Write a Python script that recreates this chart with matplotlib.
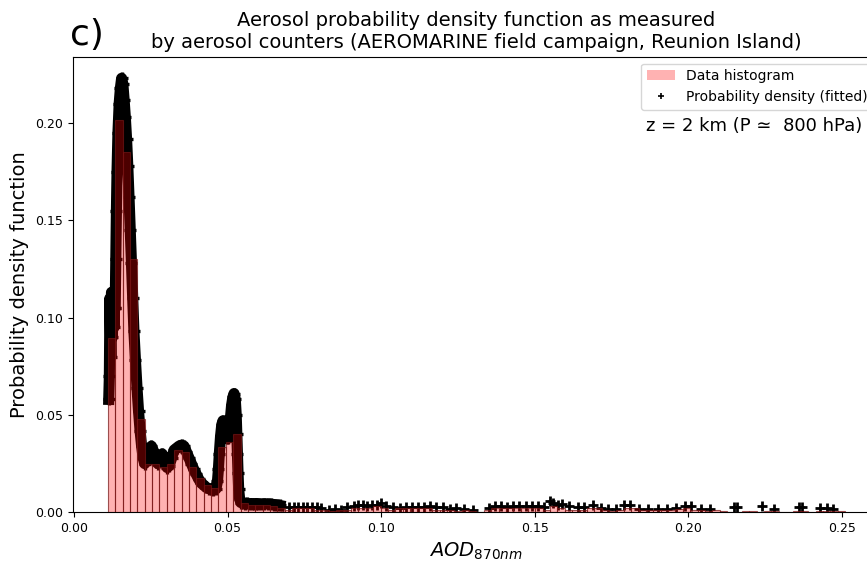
import matplotlib
matplotlib.use("Agg")
import matplotlib.pyplot as plt
from matplotlib.patches import Patch
from matplotlib.lines import Line2D

# --- histogram (bar heights sum to ~1) ---
bin_start = 0.011
bin_width = 0.0024
bar_heights = [
    0.0896, 0.2016, 0.185, 0.13, 0.048, 0.025, 0.025, 0.0234, 0.025, 0.032,
    0.031, 0.0234, 0.0176, 0.014, 0.0125, 0.0337, 0.036, 0.040, 0.005, 0.004,
    0.004, 0.004, 0.003, 0.002, 0.001, 0.002, 0.002, 0.002, 0.001, 0.001,
    0.0005, 0.001, 0.001, 0.002, 0.002, 0.002, 0.003, 0.002, 0.001, 0.002,
    0.002, 0.002, 0.002, 0.002, 0.001, 0.001, 0.001, 0.0005, 0.001, 0.0005,
    0.0, 0.001, 0.002, 0.002, 0.002, 0.002, 0.002, 0.002, 0.002, 0.001,
    0.003, 0.002, 0.001, 0.001, 0.001, 0.002, 0.002, 0.001, 0.0005, 0.001,
    0.002, 0.002, 0.001, 0.001, 0.001, 0.001, 0.001, 0.0015, 0.002, 0.001,
    0.001, 0.0005, 0.001, 0.0005, 0.0, 0.0, 0.0005, 0.0005, 0.0, 0.0005,
    0.0005, 0.0, 0.0, 0.0005, 0.0005, 0.0, 0.0005, 0.0005, 0.0005, 0.0005,
]
bin_edges = [bin_start + i * bin_width for i in range(len(bar_heights))]

# --- fitted density, main part ---
main_x = [
    0.0113, 0.0115, 0.0117, 0.0120, 0.0122, 0.0125, 0.0127, 0.0130, 0.0132,
    0.0134, 0.0136, 0.0138, 0.0140, 0.0143, 0.0147, 0.0151, 0.0155, 0.0159,
    0.0163, 0.0167, 0.0171, 0.0175, 0.0179, 0.0183, 0.0187, 0.0191, 0.0195,
    0.0200, 0.0205, 0.0210, 0.0215, 0.0220, 0.0225, 0.0230, 0.0237, 0.0245,
    0.0252, 0.0260, 0.0267, 0.0273, 0.0280, 0.0287, 0.0295, 0.0303, 0.0310,
    0.0318, 0.0326, 0.0334, 0.0342, 0.0350, 0.0358, 0.0366, 0.0374, 0.0382,
    0.0390, 0.0398, 0.0406, 0.0414, 0.0422, 0.0430, 0.0438, 0.0446, 0.0454,
    0.0462, 0.0467, 0.0470, 0.0473, 0.0477, 0.0481, 0.0485, 0.0489, 0.0493,
    0.0497, 0.0501, 0.0505, 0.0509, 0.0513, 0.0517, 0.0521, 0.0525, 0.0528,
    0.0530, 0.0532, 0.0534, 0.0536, 0.0539, 0.0543, 0.0550, 0.0557, 0.0564,
    0.0571, 0.0578, 0.0585, 0.0592, 0.0600, 0.0610, 0.0620, 0.0630, 0.0640,
    0.0650, 0.0660, 0.0670,
]
main_y = [
    0.058, 0.070, 0.110, 0.080, 0.113, 0.090, 0.112, 0.095, 0.105,
    0.105, 0.130, 0.155, 0.175, 0.195, 0.210, 0.218, 0.223, 0.220,
    0.212, 0.203, 0.192, 0.178, 0.162, 0.145, 0.128, 0.110, 0.093,
    0.078, 0.064, 0.052, 0.042, 0.034, 0.028, 0.025, 0.027, 0.031,
    0.034, 0.031, 0.026, 0.025, 0.028, 0.030, 0.026, 0.023, 0.024,
    0.028, 0.032, 0.033, 0.034, 0.0345, 0.034, 0.031, 0.028, 0.025,
    0.022, 0.0195, 0.017, 0.015, 0.014, 0.0128, 0.0122, 0.0118, 0.0115,
    0.012, 0.016, 0.022, 0.030, 0.039, 0.045, 0.047, 0.045, 0.041,
    0.038, 0.038, 0.042, 0.048, 0.055, 0.059, 0.061, 0.058, 0.050,
    0.040, 0.030, 0.020, 0.012, 0.007, 0.005, 0.0048, 0.0045, 0.0046,
    0.0044, 0.0045, 0.0043, 0.0045, 0.0044, 0.0042, 0.0044, 0.0043, 0.0042,
    0.0040, 0.0038, 0.0035,
]

# --- fitted density, sparse tail ---
tail_x = [
    0.0700, 0.0715, 0.0730, 0.0745, 0.0760, 0.0775, 0.0790, 0.0805,
    0.0830, 0.0850, 0.0870, 0.0890, 0.0910, 0.0925, 0.0940, 0.0955,
    0.0970, 0.0985, 0.1000, 0.1015, 0.1040, 0.1060, 0.1080, 0.1100,
    0.1120, 0.1140, 0.1160, 0.1180, 0.1200, 0.1225, 0.1245, 0.1270,
    0.1300, 0.1350, 0.1370, 0.1390, 0.1410, 0.1430, 0.1450, 0.1470,
    0.1490, 0.1510, 0.1530, 0.1550, 0.1560, 0.1575, 0.1590, 0.1610,
    0.1640, 0.1660, 0.1690, 0.1715, 0.1740, 0.1765, 0.1790, 0.1810,
    0.1840, 0.1870, 0.1900, 0.1930, 0.1960, 0.1990, 0.2010, 0.2040,
    0.2070, 0.2150, 0.2160, 0.2240, 0.2280, 0.2360, 0.2370, 0.2430,
    0.2450, 0.2470,
]
tail_y = [
    0.0025, 0.0026, 0.0025, 0.0027, 0.0025, 0.0026, 0.0027, 0.0024,
    0.0012, 0.0015, 0.0013, 0.0025, 0.0030, 0.0035, 0.0040, 0.0030,
    0.0040, 0.0035, 0.0050, 0.0030, 0.0025, 0.0024, 0.0026, 0.0025,
    0.0025, 0.0027, 0.0030, 0.0028, 0.0025, 0.0015, 0.0020, 0.0015,
    0.0012, 0.0020, 0.0030, 0.0030, 0.0028, 0.0030, 0.0032, 0.0030,
    0.0030, 0.0032, 0.0028, 0.0060, 0.0050, 0.0040, 0.0042, 0.0030,
    0.0025, 0.0028, 0.0040, 0.0020, 0.0015, 0.0015, 0.0040, 0.0038,
    0.0018, 0.0016, 0.0018, 0.0017, 0.0020, 0.0030, 0.0030, 0.0015,
    0.0015, 0.0025, 0.0025, 0.0030, 0.0015, 0.0025, 0.0025, 0.0020,
    0.0020, 0.0018,
]

xticks = [0.00, 0.05, 0.10, 0.15, 0.20, 0.25]
yticks = [0.00, 0.05, 0.10, 0.15, 0.20]

fig = plt.figure(figsize=(8.67, 5.65), dpi=100)
ax = fig.add_axes([0.0839, 0.0933, 0.9311, 0.8064])

# marker band first, histogram drawn over it with transparency
ax.plot(main_x, main_y, '-', color='black', lw=8, zorder=2)
ax.plot(main_x, main_y, '+', color='black', ms=9, mew=2.4, zorder=2)
ax.plot(tail_x, tail_y, '+', color='black', ms=7, mew=2.0, zorder=2)

ax.bar(bin_edges, bar_heights, width=bin_width, align='edge',
       facecolor=(1, 0, 0, 0.3), edgecolor=(0.45, 0.08, 0.08, 0.7),
       linewidth=0.8, zorder=3)

ax.set_xlim(-0.00042, 0.2624)
ax.set_ylim(0, 0.2341)
ax.set_xticks(xticks)
ax.set_yticks(yticks)
ax.set_xticklabels([f"{t:.2f}" for t in xticks])
ax.set_yticklabels([f"{t:.2f}" for t in yticks])
ax.tick_params(labelsize=9)

ax.set_xlabel(r"$AOD_{870nm}$", fontsize=14)
ax.set_ylabel("Probability density function", fontsize=14)
ax.set_title("Aerosol probability density function as measured\n"
             "by aerosol counters (AEROMARINE field campaign, Reunion Island)",
             fontsize=14)
fig.text(70 / 867, 1 - 45 / 565, "c)", fontsize=26, ha='left', va='baseline')

handles = [
    Patch(facecolor=(1, 0, 0, 0.3), edgecolor='none', label='Data histogram'),
    Line2D([], [], ls='none', marker='+', color='black', ms=5, mew=1.2,
           label='Probability density (fitted)'),
]
ax.legend(handles=handles, loc='upper right', fontsize=10)
ax.text(0.2565, 0.1985, "z = 2 km (P \u2243  800 hPa)", fontsize=13,
        ha='right', va='center')

fig.savefig("out.png", dpi=100)
